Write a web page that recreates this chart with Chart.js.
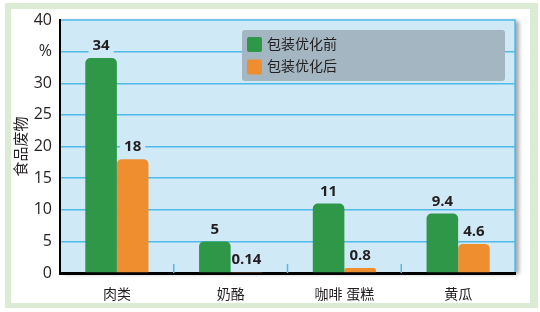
<!DOCTYPE html>
<html>
<head>
<meta charset="utf-8">
<script src="https://cdn.jsdelivr.net/npm/chart.js@4"></script>
<style>
  html, body { margin: 0; padding: 0; background: #fff; }
  #wrap { width: 540px; height: 312px; }
</style>
</head>
<body>
<div id="wrap"><canvas id="chart" width="540" height="312"></canvas></div>
<script>
// data
const categories = ["肉类", "奶酪", "咖啡 蛋糕", "黄瓜"];
const seriesNames = ["包装优化前", "包装优化后"];
const beforeValues = [34, 5, 11, 9.4];
const afterValues = [18, 0.14, 0.8, 4.6];
const valueLabels = [["34", "5", "11", "9.4"], ["18", "0.14", "0.8", "4.6"]];
const yTicks = [0, 5, 10, 15, 20, 25, 30, 35, 40];

const FONT = '"Open Sans", "Noto Sans CJK SC", sans-serif';
const PLOT_BG = "#cfe9f6";
const GRID = "#4fb9ea";

// frame + plot background with shadow
const backdrop = {
  id: "backdrop",
  beforeDraw(chart) {
    const ctx = chart.ctx;
    const a = chart.chartArea;
    ctx.save();
    ctx.fillStyle = "#dcebd3";
    ctx.fillRect(5, 3, 533, 305);
    ctx.fillStyle = "#ffffff";
    ctx.fillRect(11, 9, 519, 294);
    ctx.shadowColor = "rgba(0,0,0,0.35)";
    ctx.shadowOffsetX = 4;
    ctx.shadowOffsetY = 1;
    ctx.shadowBlur = 4;
    ctx.fillStyle = PLOT_BG;
    ctx.fillRect(a.left, a.top, a.right - a.left, a.bottom - a.top);
    ctx.shadowColor = "transparent";
    ctx.strokeStyle = GRID;
    ctx.lineWidth = 1.5;
    ctx.beginPath();
    ctx.moveTo(a.left, a.top);
    ctx.lineTo(a.right, a.top);
    ctx.lineTo(a.right, a.bottom);
    ctx.stroke();
    ctx.restore();
  }
};

// small blue ticks between categories + value labels
const barLabels = {
  id: "barLabels",
  beforeDatasetsDraw(chart) {
    const ctx = chart.ctx;
    const x = chart.scales.x;
    const a = chart.chartArea;
    ctx.save();
    ctx.strokeStyle = GRID;
    ctx.lineWidth = 1.5;
    for (let i = 0; i < categories.length - 1; i++) {
      const px = (x.getPixelForValue(i) + x.getPixelForValue(i + 1)) / 2;
      ctx.beginPath();
      ctx.moveTo(px, a.bottom - 9);
      ctx.lineTo(px, a.bottom);
      ctx.stroke();
    }
    ctx.font = "bold 15px " + FONT;
    ctx.textAlign = "center";
    ctx.textBaseline = "middle";
    chart.data.datasets.forEach((ds, d) => {
      chart.getDatasetMeta(d).data.forEach((bar, i) => {
        const txt = valueLabels[d][i];
        const w = ctx.measureText(txt).width + 8;
        const cy = bar.y - 13;
        ctx.fillStyle = PLOT_BG;
        ctx.fillRect(bar.x - w / 2, cy - 8, w, 16);
        ctx.fillStyle = "#231f20";
        ctx.fillText(txt, bar.x, cy + 1);
      });
    });
    ctx.restore();
  }
};

// legend box inside the plot
const boxLegend = {
  id: "boxLegend",
  afterDraw(chart) {
    const ctx = chart.ctx;
    ctx.save();
    ctx.fillStyle = "#a3b6c2";
    ctx.beginPath();
    ctx.roundRect(242, 30, 263, 51, 3);
    ctx.fill();
    ctx.font = "14px " + FONT;
    ctx.textBaseline = "middle";
    ctx.textAlign = "left";
    chart.data.datasets.forEach((ds, i) => {
      const y = 37 + i * 22.5;
      ctx.fillStyle = ds.backgroundColor;
      ctx.beginPath();
      ctx.roundRect(247, y, 15, 15, 2);
      ctx.fill();
      ctx.fillStyle = "#231f20";
      ctx.fillText(ds.label, 267, y + 8);
    });
    ctx.restore();
  }
};

new Chart(document.getElementById("chart"), {
  type: "bar",
  data: {
    labels: categories,
    datasets: [
      {
        label: seriesNames[0],
        data: beforeValues,
        backgroundColor: "#2f9748",
        borderRadius: 5,
      },
      {
        label: seriesNames[1],
        data: afterValues,
        backgroundColor: "#ee8e2f",
        borderRadius: 5,
      },
    ],
  },
  options: {
    responsive: false,
    animation: false,
    layout: { padding: { top: 20, right: 25, left: 0, bottom: 0 } },
    categoryPercentage: 0.555,
    barPercentage: 1,
    plugins: {
      legend: { display: false },
      tooltip: { enabled: false },
    },
    scales: {
      x: {
        afterFit(scale) { scale.height = 39; },
        grid: { display: false },
        border: { color: "#000", width: 3 },
        ticks: {
          padding: 6,
          color: "#231f20",
          font: { family: FONT, size: 14 },
        },
      },
      y: {
        min: 0,
        max: 40,
        afterFit(scale) { scale.width = 60; },
        afterBuildTicks(scale) { scale.ticks = yTicks.map(v => ({ value: v })); },
        border: { color: "#000", width: 2 },
        grid: {
          drawTicks: false,
          lineWidth: 1.5,
          color: (c) => (c.tick.value === 0 || c.tick.value === 40 ? "rgba(0,0,0,0)" : GRID),
        },
        ticks: {
          padding: 8,
          color: "#231f20",
          font: { family: FONT, size: 16 },
          callback: (v) => (v === 35 ? "%" : v),
        },
        title: {
          display: true,
          text: "食品废物",
          color: "#231f20",
          font: { family: FONT, size: 15 },
          padding: { top: 13, bottom: 0 },
        },
      },
    },
  },
  plugins: [backdrop, barLabels, boxLegend],
});
</script>
</body>
</html>
